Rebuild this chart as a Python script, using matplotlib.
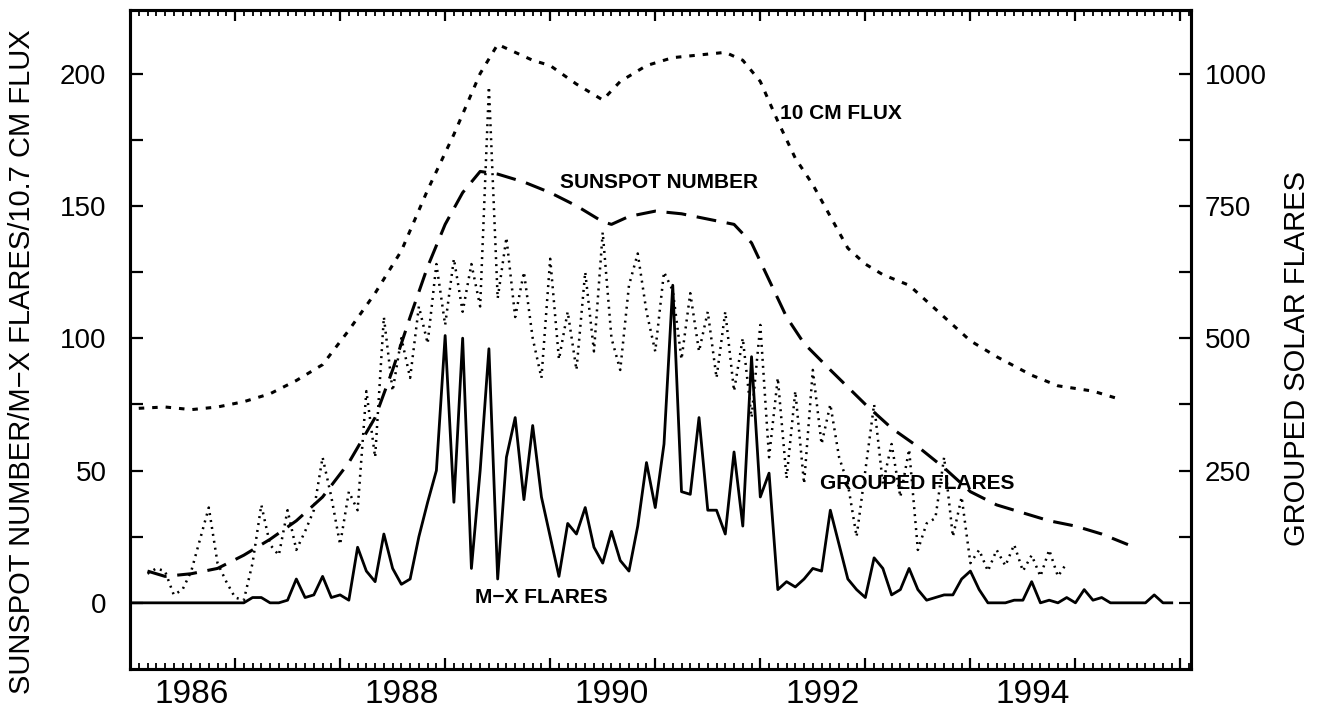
import matplotlib
matplotlib.use('Agg')
import matplotlib.pyplot as plt
import matplotlib.transforms as mtransforms
from matplotlib.ticker import MultipleLocator
import numpy as np

# months counted from Jan 1985
start_year = 1985

mx_start = 0
mx_flares = [0, 0, 0, 0, 0, 0, 0, 0, 0, 0, 0, 0, 0, 0,
             2, 2, 0, 0, 1, 9, 2, 3, 10, 2, 3, 1, 21, 12, 8, 26,
             13, 7, 9, 25, 38, 50, 101, 38, 100, 13, 50, 96, 9, 55, 70, 39,
             67, 40, 25, 10, 30, 26, 36, 21, 15, 27, 16, 12, 29, 53, 36, 60,
             120, 42, 41, 70, 35, 35, 26, 57, 29, 93, 40, 49, 5, 8, 6, 9,
             13, 12, 35, 22, 9, 5, 2, 17, 13, 3, 5, 13, 5, 1, 2, 3,
             3, 9, 12, 5, 0, 0, 0, 1, 1, 8, 0, 1, 0, 2, 0, 5,
             1, 2, 0, 0, 0, 0, 0, 3, 0, 0]

grouped_start = 2
grouped_flares = [55, 65, 60, 15, 25, 60, 120, 180, 75, 40, 10, 5, 75, 185, 110, 90,
                  175, 100, 135, 175, 275, 200, 110, 210, 175, 400, 275, 540, 400, 500,
                  425, 560, 490, 640, 525, 650, 550, 640, 560, 975, 575, 690, 540, 625,
                  500, 425, 650, 460, 550, 440, 625, 475, 700, 500, 440, 600, 660, 550,
                  475, 625, 590, 460, 585, 475, 550, 425, 550, 400, 500, 350, 525, 275,
                  425, 235, 400, 225, 440, 300, 375, 275, 225, 125, 250, 375, 225, 300,
                  200, 290, 100, 150, 160, 275, 125, 200, 75, 100, 60, 100, 70, 110,
                  60, 90, 50, 100, 50, 75]

sunspot_months = [2, 4, 7, 10, 13, 16, 19, 22, 25, 28, 30, 32, 34, 36, 38, 40, 42, 45,
                  48, 51, 54, 55, 57, 60, 63, 66, 69, 71, 73, 75, 77, 80, 84, 87, 90,
                  93, 96, 99, 102, 105, 108, 111, 114]
sunspot = [12, 10, 11, 13, 18, 24, 31, 40, 53, 70, 88, 108, 127, 143, 155, 163, 162, 159,
           155, 150, 144, 143, 146, 148, 147, 145, 143, 136, 122, 108, 98, 88, 75, 66, 59,
           51, 42, 37, 34, 31, 29, 26, 22]

flux_months = [1, 4, 7, 10, 13, 16, 19, 22, 25, 28, 31, 34, 37, 40, 42, 44, 46, 48, 51,
               54, 56, 59, 62, 65, 68, 70, 72, 74, 76, 78, 80, 82, 84, 86, 89, 92, 96,
               99, 103, 106, 110, 113]
flux = [73.5, 74, 73, 74, 76, 79, 84, 90, 103, 117, 133, 156, 177, 200, 211, 208, 205,
        203, 196, 190, 197, 203, 206, 207, 208, 205, 197, 182, 168, 158, 146, 134, 128,
        124, 120, 111, 99, 93, 86, 82, 80, 77]

years = list(range(1986, 1996))
year_labels = ['1986', '', '1988', '', '1990', '', '1992', '', '1994', '']
left_ticks = [0, 25, 50, 75, 100, 125, 150, 175, 200]
left_labels = ['0', '', '50', '', '100', '', '150', '', '200']
right_ticks = [0, 125, 250, 375, 500, 625, 750, 875, 1000]
right_labels = ['', '', '250', '', '500', '', '750', '', '1000']


def to_year(months):
    return start_year + np.asarray(months) / 12.0


t_mx = to_year(np.arange(len(mx_flares)) + mx_start)
t_grp = to_year(np.arange(len(grouped_flares)) + grouped_start)
t_ss = to_year(sunspot_months)
t_flux = to_year(flux_months)

plt.rcParams['font.family'] = ['Liberation Sans', 'DejaVu Sans']
narrow = ['Liberation Sans Narrow', 'Liberation Sans', 'DejaVu Sans']

fig = plt.figure(figsize=(13.25, 7.17), dpi=100)
ax = fig.add_axes([130 / 1325, 1 - 669 / 717, (1191 - 130) / 1325, (669 - 10) / 717])
ax2 = ax.twinx()

ax.plot(t_flux, flux, color='black', lw=2.2, dashes=(1.8, 2.6))
ax.plot(t_ss, sunspot, color='black', lw=2.2, dashes=(6.5, 3.5))
ax.plot(t_mx, mx_flares, color='black', lw=2.0)
ax2.plot(t_grp, grouped_flares, color='black', lw=1.8, dashes=(0.8, 2.0))

ax.set_xlim(1985.0, 1995.1)
ax.set_ylim(-25, 224)
ax2.set_ylim(-125, 1120)

ax.set_xticks(years)
ax.set_xticklabels(year_labels)
ax.xaxis.set_minor_locator(MultipleLocator(1 / 12))
ax.set_yticks(left_ticks)
ax.set_yticklabels(left_labels)
ax2.set_yticks(right_ticks)
ax2.set_yticklabels(right_labels)

ax.tick_params(axis='x', which='major', direction='in', length=8, width=1.6,
               top=True, labelsize=24, pad=7)
ax.tick_params(axis='x', which='minor', direction='in', length=4, width=1.3, top=True)
ax.tick_params(axis='y', which='major', direction='in', length=9, width=1.6,
               labelsize=20, pad=17)
ax2.tick_params(axis='y', which='major', direction='in', length=9, width=1.6,
                labelsize=20, pad=10)

offset = mtransforms.ScaledTranslation(-6 / 100, 0, fig.dpi_scale_trans)
for lbl in ax.get_xticklabels():
    lbl.set_ha('right')
    lbl.set_transform(lbl.get_transform() + offset)

for a in (ax, ax2):
    for s in a.spines.values():
        s.set_linewidth(2.2)

fig.text(22 / 1325, 1 - 362 / 717, 'SUNSPOT NUMBER/M\u2212X FLARES/10.7 CM FLUX',
         rotation=90, ha='center', va='center', fontsize=21, family=narrow)
fig.text(1297 / 1325, 1 - 358 / 717, 'GROUPED SOLAR FLARES',
         rotation=90, ha='center', va='center', fontsize=21, family=narrow)

lab = dict(fontsize=15, fontweight='bold', family=narrow, va='center', ha='left')
ax.text(1991.19, 185, '10 CM FLUX', **lab)
ax.text(1989.09, 159, 'SUNSPOT NUMBER', **lab)
ax.text(1991.57, 45, 'GROUPED FLARES', **lab)
ax.text(1988.28, 2.2, 'M\u2212X FLARES', **lab)

fig.savefig('out.png', dpi=100)
